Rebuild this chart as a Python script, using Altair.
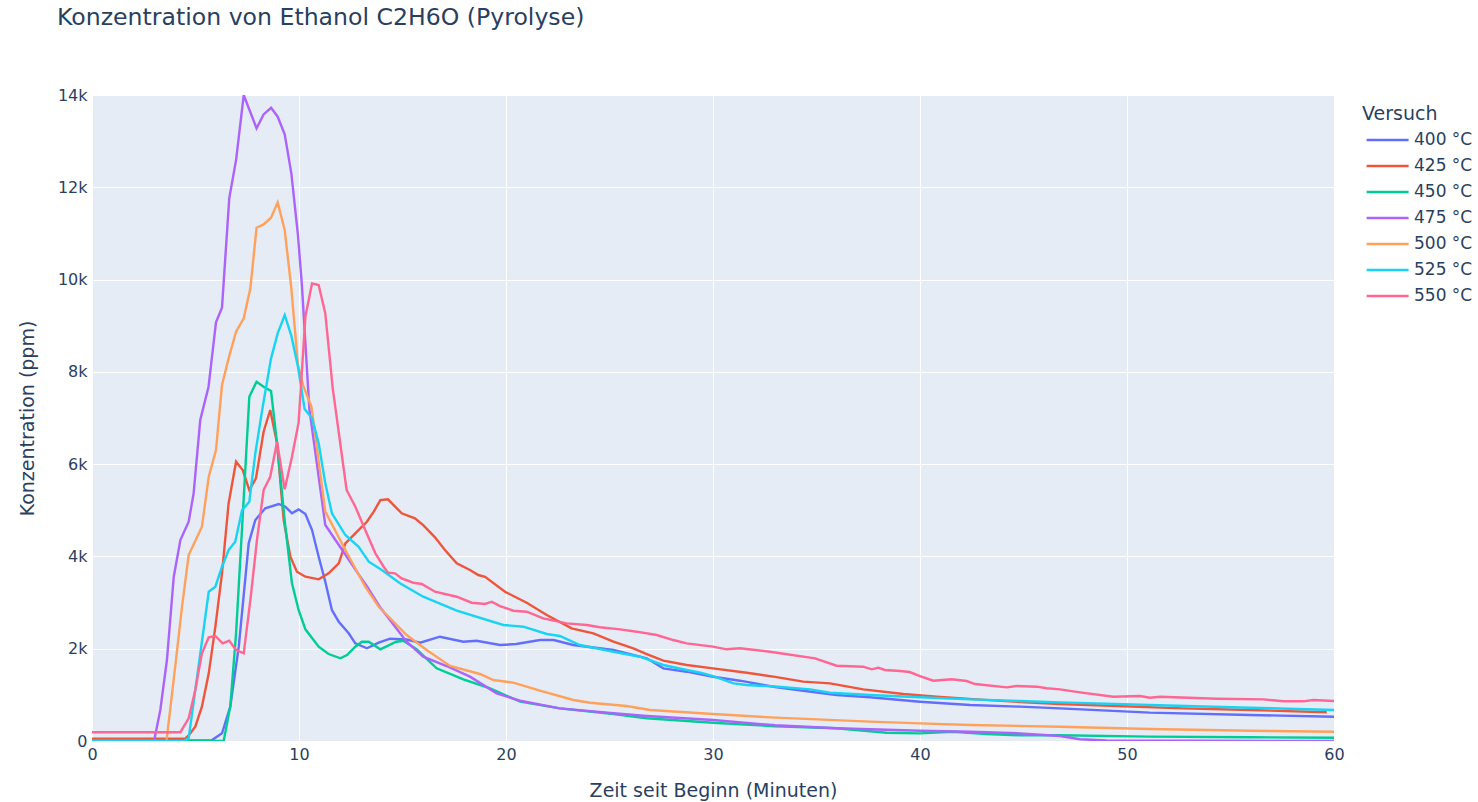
import altair as alt
import pandas as pd

series = ["400 °C", "425 °C", "450 °C", "475 °C", "500 °C", "525 °C", "550 °C"]
colors = ["#636efa", "#EF553B", "#00cc96", "#ab63fa", "#FFA15A", "#19d3f3", "#FF6692"]

t400 = [0, 5.8, 6.28, 6.68, 7.09, 7.57, 7.89, 8.37, 9.02, 9.34, 9.66, 9.98, 10.31, 10.63, 10.95, 11.27, 11.59, 11.92, 12.4, 12.72, 13.28, 13.85, 14.4, 15.2, 15.85, 16.81, 17.94, 18.58, 19.71, 20.5, 21.64, 22.3, 23.25, 25.19, 26.8, 27.6, 28.73, 30.0, 31.3, 33.0, 34.36, 35.97, 37.58, 40.0, 42.42, 44.83, 46.76, 51.1, 55.94, 60]
v400 = [0, 20, 166, 744, 2044, 4284, 4790, 5043, 5136, 5078, 4934, 5020, 4920, 4572, 3994, 3452, 2839, 2585, 2334, 2117, 2009, 2130, 2217, 2200, 2130, 2260, 2152, 2173, 2080, 2101, 2188, 2188, 2080, 1972, 1792, 1575, 1502, 1393, 1307, 1170, 1090, 997, 947, 852, 780, 744, 708, 614, 563, 527]

t425 = [0, 4.5, 4.67, 4.99, 5.31, 5.64, 5.96, 6.28, 6.6, 6.96, 7.28, 7.6, 7.92, 8.29, 8.61, 8.94, 9.26, 9.58, 9.9, 10.31, 10.95, 11.43, 11.92, 12.24, 12.72, 13.28, 13.61, 13.93, 14.3, 14.96, 15.6, 16.0, 16.57, 17.05, 17.62, 18.26, 18.66, 18.99, 19.95, 21.0, 21.97, 23.17, 24.22, 25.19, 26.15, 26.8, 27.6, 28.73, 30.0, 31.63, 33.0, 34.36, 35.65, 37.26, 39.2, 40.81, 42.74, 44.83, 46.76, 49.5, 52.7, 55.94, 59.65]
v425 = [50, 50, 120, 310, 744, 1466, 2477, 3633, 5150, 6053, 5872, 5439, 5692, 6703, 7173, 6451, 4790, 3994, 3669, 3560, 3504, 3633, 3851, 4284, 4501, 4752, 4969, 5222, 5237, 4934, 4826, 4680, 4414, 4139, 3851, 3705, 3597, 3560, 3235, 2997, 2730, 2442, 2334, 2152, 2009, 1885, 1740, 1647, 1575, 1480, 1390, 1286, 1250, 1120, 1018, 960, 903, 845, 802, 758, 708, 672, 622]

t450 = [0, 6.36, 6.68, 6.96, 7.28, 7.6, 7.95, 8.29, 8.65, 8.94, 9.34, 9.66, 9.98, 10.31, 10.95, 11.43, 12.0, 12.32, 12.72, 13.04, 13.37, 13.93, 14.7, 15.04, 15.68, 16.65, 17.94, 19.23, 20.68, 22.6, 25.19, 26.8, 30.0, 33.0, 35.97, 38.39, 40.0, 41.6, 43.22, 44.83, 46.76, 51.1, 55.94, 60]
v450 = [0, 0, 744, 2333, 4861, 7462, 7787, 7678, 7585, 6451, 4644, 3417, 2839, 2420, 2044, 1885, 1792, 1864, 2044, 2152, 2152, 1987, 2152, 2173, 1987, 1575, 1337, 1142, 852, 708, 585, 492, 397, 320, 275, 180, 166, 202, 152, 123, 123, 94, 80, 72]

t475 = [0, 3.0, 3.3, 3.62, 3.95, 4.27, 4.67, 4.91, 5.23, 5.63, 5.99, 6.28, 6.63, 6.96, 7.33, 7.95, 8.29, 8.65, 8.97, 9.31, 9.63, 9.95, 10.14, 10.5, 11.27, 12.0, 12.7, 13.3, 13.9, 15.2, 16.0, 17.13, 18.26, 19.55, 20.68, 22.6, 25.19, 26.8, 30.0, 33.0, 35.97, 40.0, 42.42, 44.83, 46.76, 47.73, 49.0, 60]
v475 = [0, 0, 672, 1755, 3560, 4356, 4752, 5368, 6956, 7678, 9073, 9390, 11760, 12590, 14000, 13277, 13580, 13724, 13530, 13147, 12302, 10965, 9880, 7200, 4680, 4200, 3730, 3340, 2910, 2152, 1827, 1625, 1394, 1033, 873, 708, 600, 542, 455, 340, 275, 223, 202, 166, 108, 37, 10, 0]

t500 = [0, 3.6, 4.02, 4.35, 4.67, 5.31, 5.64, 5.99, 6.28, 6.6, 6.96, 7.33, 7.65, 7.95, 8.29, 8.65, 8.97, 9.31, 9.63, 9.95, 10.22, 10.6, 11.27, 12.24, 13.2, 13.85, 14.49, 15.2, 16.2, 17.3, 18.74, 19.39, 20.35, 21.64, 23.25, 24.06, 25.83, 26.96, 30.0, 32.75, 37.58, 40.0, 42.42, 46.76, 51.1, 55.94, 60]
v500 = [0, 0, 1610, 2910, 4030, 4644, 5727, 6306, 7714, 8293, 8870, 9160, 9810, 11123, 11196, 11340, 11673, 11073, 9810, 8148, 7678, 7250, 4970, 4140, 3344, 2910, 2620, 2297, 1960, 1625, 1452, 1322, 1264, 1090, 888, 830, 758, 672, 585, 513, 419, 383, 347, 310, 260, 223, 202]

t525 = [0, 4.4, 4.67, 5.64, 5.96, 6.28, 6.6, 6.92, 7.25, 7.6, 7.89, 8.25, 8.65, 8.97, 9.31, 9.63, 9.95, 10.27, 10.63, 10.95, 11.27, 11.59, 12.24, 12.88, 13.37, 14.0, 14.88, 16.0, 17.62, 19.87, 20.84, 21.97, 22.6, 23.57, 25.19, 26.47, 27.6, 28.73, 29.4, 30.0, 30.99, 31.63, 33.0, 34.69, 35.65, 37.58, 40.0, 42.42, 44.83, 46.76, 51.1, 55.94, 60]
v525 = [0, 0, 58, 3235, 3344, 3777, 4139, 4319, 5006, 5186, 6234, 7250, 8293, 8835, 9231, 8783, 8111, 7194, 6993, 6451, 5584, 4934, 4464, 4210, 3885, 3705, 3417, 3127, 2824, 2514, 2477, 2319, 2275, 2080, 1935, 1827, 1647, 1539, 1480, 1408, 1250, 1213, 1180, 1120, 1047, 997, 947, 903, 867, 838, 780, 722, 672]

t550 = [0, 4.27, 4.67, 4.99, 5.31, 5.64, 5.96, 6.31, 6.63, 6.96, 7.33, 7.65, 7.97, 8.29, 8.61, 8.94, 9.31, 9.66, 9.98, 10.31, 10.63, 10.95, 11.27, 11.63, 12.3, 12.72, 13.2, 13.69, 14.09, 14.3, 14.64, 14.96, 15.52, 15.93, 16.57, 17.62, 18.34, 18.99, 19.31, 19.71, 20.35, 21.0, 21.8, 22.93, 23.9, 24.54, 25.51, 26.31, 27.28, 28.08, 28.73, 30.0, 30.66, 31.3, 32.75, 34.93, 35.97, 37.26, 37.67, 37.99, 38.3, 39.03, 39.5, 40.0, 40.64, 41.53, 42.25, 42.66, 44.19, 44.67, 45.64, 46.12, 46.76, 47.73, 49.34, 50.63, 51.1, 51.6, 54.33, 56.59, 57.55, 58.52, 59.0, 60]
v550 = [190, 190, 490, 1105, 1900, 2247, 2275, 2117, 2173, 1972, 1900, 3055, 4356, 5439, 5727, 6486, 5454, 6160, 6900, 9200, 9918, 9882, 9268, 7643, 5440, 5078, 4572, 4067, 3777, 3647, 3633, 3525, 3430, 3402, 3235, 3127, 2997, 2969, 3019, 2925, 2824, 2802, 2659, 2550, 2514, 2464, 2420, 2369, 2297, 2188, 2117, 2044, 1987, 2009, 1935, 1792, 1632, 1610, 1553, 1589, 1539, 1517, 1495, 1408, 1307, 1337, 1300, 1235, 1163, 1192, 1177, 1142, 1120, 1055, 960, 975, 938, 960, 917, 903, 860, 860, 888, 867]

y_ticks = [0, 2000, 4000, 6000, 8000, 10000, 12000, 14000]
x_ticks = [0, 10, 20, 30, 40, 50, 60]

pairs = [(t400, v400), (t425, v425), (t450, v450), (t475, v475), (t500, v500), (t525, v525), (t550, v550)]
rows = []
for i, (ts, vs) in enumerate(pairs):
    assert len(ts) == len(vs), (series[i], len(ts), len(vs))
    for t, v in zip(ts, vs):
        rows.append({"t": t, "v": v, "Versuch": series[i], "k": i})
df = pd.DataFrame(rows)

FONT = "DejaVu Sans"
TXT = "#2a3f5f"

chart = alt.Chart(df).mark_line(strokeWidth=2.4, clip=True).encode(
    x=alt.X("t:Q", scale=alt.Scale(domain=[0, 60], nice=False, zero=False),
            axis=alt.Axis(values=x_ticks, title="Zeit seit Beginn (Minuten)",
                          labelFlush=False, labelOverlap=False, labelPadding=5,
                          titleX=621, titleY=49, titleBaseline="middle", titleAlign="center")),
    y=alt.Y("v:Q", scale=alt.Scale(domain=[0, 14000], nice=False),
            axis=alt.Axis(values=y_ticks,
                          labelExpr="datum.value == 0 ? '0' : format(datum.value / 1000, 'd') + 'k'",
                          title="Konzentration (ppm)",
                          labelFlush=False, labelOverlap=False, labelPadding=5,
                          titleX=-65, titleY=323, titleAngle=-90,
                          titleBaseline="middle", titleAlign="center")),
    color=alt.Color("Versuch:N", scale=alt.Scale(domain=series, range=colors),
                    legend=alt.Legend(title="Versuch", orient="none", legendX=1270, legendY=10,
                                      symbolType="M-1,0H4", symbolSize=282, symbolStrokeWidth=2.4,
                                      symbolOffset=3, labelOffset=29, rowPadding=8,
                                      titlePadding=6, padding=0)),
    order=alt.Order("t:Q"),
).properties(
    width=1242, height=646,
    title=alt.TitleParams("Konzentration von Ethanol C2H6O (Pyrolyse)", anchor="start",
                          frame="group", dx=-35, offset=38, baseline="alphabetic",
                          fontSize=23.6, font=FONT, fontWeight="normal", color=TXT),
    autosize=alt.AutoSizeParams(type="none"),
    padding={"left": 92, "top": 95, "right": 144, "bottom": 61},
    background="white",
).configure_view(
    fill="#E5ECF6", stroke=None
).configure_axis(
    grid=True, gridColor="white", gridWidth=1, domain=False, ticks=False,
    labelFont=FONT, labelFontSize=16, labelColor=TXT,
    titleFont=FONT, titleFontSize=19, titleFontWeight="normal", titleColor=TXT,
).configure_legend(
    titleFont=FONT, titleFontSize=19, titleFontWeight="normal", titleColor=TXT,
    labelFont=FONT, labelFontSize=17, labelColor=TXT,
)

chart.save("out.html", embed_options={"renderer": "svg", "actions": False})
